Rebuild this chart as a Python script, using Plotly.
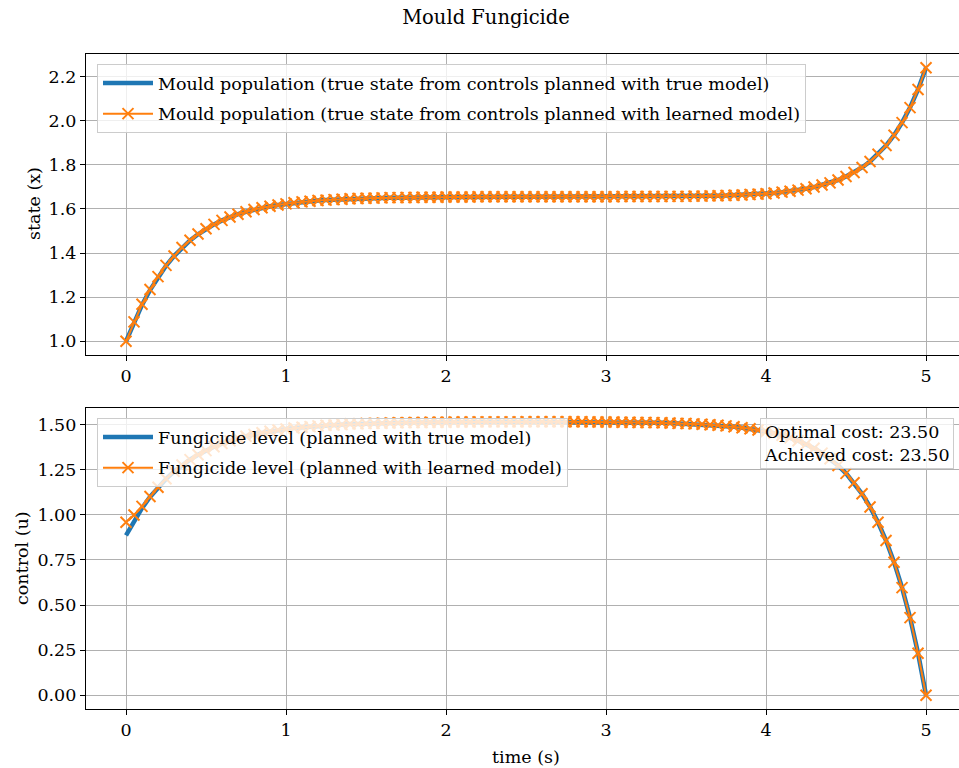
import plotly.graph_objects as go

# time grid (s)
time_s = [0.00, 0.05, 0.10, 0.15, 0.20, 0.25, 0.30, 0.35, 0.40, 0.45,
          0.50, 0.55, 0.60, 0.65, 0.70, 0.75, 0.80, 0.85, 0.90, 0.95,
          1.00, 1.05, 1.10, 1.15, 1.20, 1.25, 1.30, 1.35, 1.40, 1.45,
          1.50, 1.55, 1.60, 1.65, 1.70, 1.75, 1.80, 1.85, 1.90, 1.95,
          2.00, 2.05, 2.10, 2.15, 2.20, 2.25, 2.30, 2.35, 2.40, 2.45,
          2.50, 2.55, 2.60, 2.65, 2.70, 2.75, 2.80, 2.85, 2.90, 2.95,
          3.00, 3.05, 3.10, 3.15, 3.20, 3.25, 3.30, 3.35, 3.40, 3.45,
          3.50, 3.55, 3.60, 3.65, 3.70, 3.75, 3.80, 3.85, 3.90, 3.95,
          4.00, 4.05, 4.10, 4.15, 4.20, 4.25, 4.30, 4.35, 4.40, 4.45,
          4.50, 4.55, 4.60, 4.65, 4.70, 4.75, 4.80, 4.85, 4.90, 4.95,
          5.00]

# Mould population, true state from controls planned with true model
state_true = [1.000, 1.085, 1.165, 1.232, 1.291, 1.342, 1.386, 1.424, 1.457, 1.485,
              1.509, 1.530, 1.548, 1.563, 1.576, 1.587, 1.597, 1.605, 1.612, 1.618,
              1.623, 1.628, 1.632, 1.635, 1.638, 1.640, 1.642, 1.644, 1.646, 1.647,
              1.648, 1.649, 1.650, 1.651, 1.651, 1.652, 1.652, 1.653, 1.653, 1.653,
              1.654, 1.654, 1.654, 1.654, 1.655, 1.655, 1.655, 1.655, 1.655, 1.655,
              1.655, 1.655, 1.655, 1.655, 1.655, 1.655, 1.655, 1.655, 1.655, 1.655,
              1.655, 1.655, 1.656, 1.656, 1.656, 1.656, 1.656, 1.656, 1.657, 1.657,
              1.657, 1.658, 1.658, 1.659, 1.660, 1.661, 1.662, 1.663, 1.665, 1.667,
              1.669, 1.672, 1.676, 1.680, 1.685, 1.691, 1.699, 1.708, 1.718, 1.731,
              1.747, 1.765, 1.788, 1.815, 1.848, 1.887, 1.934, 1.991, 2.059, 2.141,
              2.240]

# Mould population, true state from controls planned with learned model
state_learned = [1.000, 1.088, 1.168, 1.235, 1.293, 1.344, 1.387, 1.425, 1.458, 1.486,
                 1.510, 1.530, 1.548, 1.563, 1.576, 1.587, 1.597, 1.605, 1.612, 1.618,
                 1.623, 1.628, 1.632, 1.635, 1.638, 1.640, 1.642, 1.644, 1.646, 1.647,
                 1.648, 1.649, 1.650, 1.651, 1.651, 1.652, 1.652, 1.653, 1.653, 1.653,
                 1.654, 1.654, 1.654, 1.654, 1.655, 1.655, 1.655, 1.655, 1.655, 1.655,
                 1.655, 1.655, 1.655, 1.655, 1.655, 1.655, 1.655, 1.655, 1.655, 1.655,
                 1.655, 1.655, 1.656, 1.656, 1.656, 1.656, 1.656, 1.656, 1.657, 1.657,
                 1.657, 1.658, 1.658, 1.659, 1.660, 1.661, 1.662, 1.663, 1.665, 1.667,
                 1.669, 1.672, 1.676, 1.680, 1.685, 1.691, 1.699, 1.708, 1.718, 1.731,
                 1.747, 1.765, 1.788, 1.815, 1.848, 1.887, 1.934, 1.991, 2.059, 2.141,
                 2.240]

# Fungicide level, planned with true model
control_true = [0.885, 0.966, 1.036, 1.098, 1.151, 1.198, 1.239, 1.274, 1.305, 1.332,
                1.355, 1.376, 1.394, 1.409, 1.423, 1.435, 1.445, 1.454, 1.462, 1.469,
                1.475, 1.480, 1.484, 1.488, 1.492, 1.495, 1.497, 1.500, 1.502, 1.503,
                1.505, 1.506, 1.507, 1.508, 1.509, 1.510, 1.511, 1.511, 1.512, 1.512,
                1.512, 1.513, 1.513, 1.513, 1.514, 1.514, 1.514, 1.514, 1.514, 1.514,
                1.515, 1.515, 1.515, 1.515, 1.515, 1.515, 1.515, 1.515, 1.514, 1.513,
                1.513, 1.513, 1.512, 1.512, 1.511, 1.511, 1.510, 1.509, 1.508, 1.506,
                1.505, 1.503, 1.501, 1.498, 1.495, 1.492, 1.487, 1.482, 1.476, 1.469,
                1.461, 1.451, 1.440, 1.426, 1.410, 1.391, 1.368, 1.341, 1.310, 1.273,
                1.229, 1.177, 1.116, 1.043, 0.958, 0.857, 0.737, 0.596, 0.430, 0.233,
                0.000]

# Fungicide level, planned with learned model
control_learned = [0.958, 0.998, 1.046, 1.101, 1.152, 1.199, 1.240, 1.275, 1.305, 1.332,
                   1.355, 1.376, 1.394, 1.409, 1.423, 1.435, 1.445, 1.454, 1.462, 1.469,
                   1.475, 1.480, 1.484, 1.488, 1.492, 1.495, 1.497, 1.500, 1.502, 1.503,
                   1.505, 1.506, 1.507, 1.508, 1.509, 1.510, 1.511, 1.511, 1.512, 1.512,
                   1.512, 1.513, 1.513, 1.513, 1.514, 1.514, 1.514, 1.514, 1.514, 1.514,
                   1.515, 1.515, 1.515, 1.515, 1.515, 1.515, 1.515, 1.515, 1.514, 1.513,
                   1.513, 1.513, 1.512, 1.512, 1.511, 1.511, 1.510, 1.509, 1.508, 1.506,
                   1.505, 1.503, 1.501, 1.498, 1.495, 1.492, 1.487, 1.482, 1.476, 1.469,
                   1.461, 1.451, 1.440, 1.426, 1.410, 1.391, 1.368, 1.341, 1.310, 1.273,
                   1.229, 1.177, 1.116, 1.043, 0.958, 0.857, 0.737, 0.596, 0.430, 0.233,
                   0.000]

x_ticks = [0, 1, 2, 3, 4, 5]
state_ticks = [1.0, 1.2, 1.4, 1.6, 1.8, 2.0, 2.2]
control_ticks = [0.00, 0.25, 0.50, 0.75, 1.00, 1.25, 1.50]

optimal_cost = 23.50
achieved_cost = 23.50

BLUE = "#1f77b4"
ORANGE = "#ff7f0e"
FONT = "DejaVu Serif"
FS = 17.5

fig = go.Figure()

fig.add_trace(go.Scatter(
    x=time_s, y=state_true, mode="lines",
    name="Mould population (true state from controls planned with true model)",
    line=dict(color=BLUE, width=4.5), xaxis="x", yaxis="y", legend="legend",
    legendgroup="a"))
fig.add_trace(go.Scatter(
    x=time_s, y=state_learned, mode="lines+markers",
    name="Mould population (true state from controls planned with learned model)",
    line=dict(color=ORANGE, width=2),
    marker=dict(symbol="x-thin", size=11, line=dict(color=ORANGE, width=2)),
    xaxis="x", yaxis="y", legend="legend", legendgroup="b"))
fig.add_trace(go.Scatter(
    x=time_s, y=control_true, mode="lines",
    name="Fungicide level (planned with true model)",
    line=dict(color=BLUE, width=4.5), xaxis="x2", yaxis="y2", legend="legend2",
    legendgroup="c"))
fig.add_trace(go.Scatter(
    x=time_s, y=control_learned, mode="lines+markers",
    name="Fungicide level (planned with learned model)",
    line=dict(color=ORANGE, width=2),
    marker=dict(symbol="x-thin", size=11, line=dict(color=ORANGE, width=2)),
    xaxis="x2", yaxis="y2", legend="legend2", legendgroup="d"))

L, R, T, B = 86, 959, 54, 709
H = 768
W = 959
ph = B - T


def ydom(top_px, bot_px):
    return [(B - bot_px) / ph, (B - top_px) / ph]


def px_x(px):
    return (px - L) / (R - L)


def px_y(py):
    return (B - py) / ph


xcommon = dict(range=[-0.25, 5.206], tickvals=x_ticks, ticktext=[str(v) for v in x_ticks],
               showgrid=True, gridcolor="#b0b0b0", gridwidth=1,
               showline=True, linecolor="black", linewidth=1.3, mirror=True,
               ticks="outside", ticklen=5, tickwidth=1.2, tickcolor="black",
               zeroline=False, tickfont=dict(family=FONT, size=FS, color="black"))
ycommon = dict(showgrid=True, gridcolor="#b0b0b0", gridwidth=1,
               showline=True, linecolor="black", linewidth=1.3, mirror=False,
               ticks="outside", ticklen=5, tickwidth=1.2, tickcolor="black",
               zeroline=False, tickfont=dict(family=FONT, size=FS, color="black"))

legend_common = dict(xanchor="left", yanchor="top",
                     bgcolor="rgba(255,255,255,0.8)", bordercolor="#cccccc", borderwidth=1,
                     font=dict(family=FONT, size=FS, color="black"),
                     traceorder="grouped", tracegroupgap=5, itemwidth=50)

fig.update_layout(
    width=W, height=H,
    margin=dict(l=L, r=W - R, t=T, b=H - B, pad=0),
    paper_bgcolor="white", plot_bgcolor="white",
    font=dict(family=FONT, size=FS, color="black"),
    title=dict(text="Mould Fungicide", x=486 / W, xanchor="center", xref="container",
               y=1 - 17 / H, yanchor="middle", yref="container",
               font=dict(family=FONT, size=19.5, color="black")),
    xaxis=dict(domain=[0, 1], anchor="y", **xcommon),
    yaxis=dict(domain=ydom(54, 355), anchor="x", range=[0.938, 2.302],
               tickvals=state_ticks, ticktext=[f"{v:.1f}" for v in state_ticks], **ycommon),
    xaxis2=dict(domain=[0, 1], anchor="y2", **xcommon),
    yaxis2=dict(domain=ydom(408, 709), anchor="x2", range=[-0.076, 1.591],
                tickvals=control_ticks, ticktext=[f"{v:.2f}" for v in control_ticks], **ycommon),
    legend=dict(x=px_x(97), y=px_y(64), **legend_common),
    legend2=dict(x=px_x(97), y=px_y(418), **legend_common),
    showlegend=True,
)

fig.add_annotation(
    text=f"Optimal cost: {optimal_cost:.2f}<br>Achieved cost: {achieved_cost:.2f}",
    xref="paper", yref="paper", x=px_x(954), y=px_y(418),
    xanchor="right", yanchor="top", align="left", showarrow=False,
    bgcolor="rgba(255,255,255,0.8)", bordercolor="#cccccc", borderwidth=1, borderpad=3,
    font=dict(family=FONT, size=FS, color="black"))

fig.add_annotation(text="state (x)", xref="paper", yref="paper",
                   x=px_x(34), y=px_y(204), textangle=-90, showarrow=False,
                   xanchor="center", yanchor="middle",
                   font=dict(family=FONT, size=FS, color="black"))
fig.add_annotation(text="control (u)", xref="paper", yref="paper",
                   x=px_x(22), y=px_y(558), textangle=-90, showarrow=False,
                   xanchor="center", yanchor="middle",
                   font=dict(family=FONT, size=FS, color="black"))
fig.add_annotation(text="time (s)", xref="paper", yref="paper",
                   x=px_x(526), y=px_y(757), showarrow=False,
                   xanchor="center", yanchor="middle",
                   font=dict(family=FONT, size=FS, color="black"))

fig.write_html("out.html")
